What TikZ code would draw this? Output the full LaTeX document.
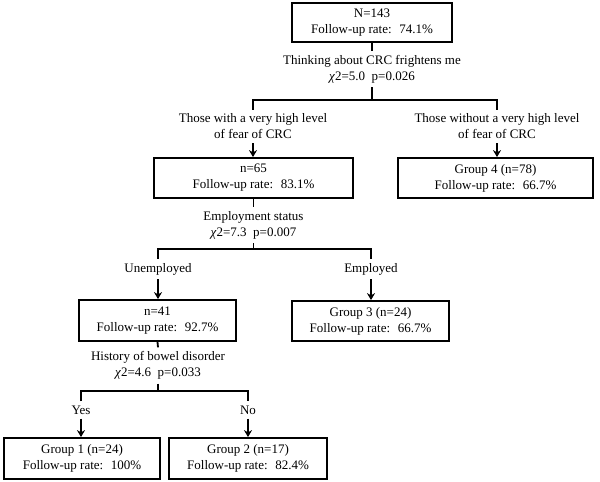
\documentclass[tikz,border=0pt]{standalone}
\usepackage{fontspec}
\setmainfont{Liberation Serif}
\usetikzlibrary{arrows.meta}
\newcommand\chisym{\textit{χ}}
\begin{document}
\begin{tikzpicture}[x=1pt,y=-1pt,
  box/.style={draw, line width=1.8pt, align=center, inner sep=0pt, font=\fontsize{13}{16}\selectfont},
  lab/.style={align=center, inner xsep=2pt, inner ysep=4pt, font=\fontsize{13}{16}\selectfont},
  conn/.style={line width=1.8pt, line join=miter},
  arr/.style={conn, -{Stealth[length=7pt,width=8pt]}}]
\useasboundingbox (0,0) rectangle (600,482);

% boxes
\node[box, minimum width=160, minimum height=39] (top) at (372,22.5) {N=143\\Follow-up rate:~ 74.1\%};
\node[box, minimum width=199, minimum height=40] (n65) at (253.5,178) {n=65\\Follow-up rate:~ 83.1\%};
\node[box, minimum width=195, minimum height=40] (g4) at (495.5,178) {Group 4 (n=78)\\Follow-up rate:~ 66.7\%};
\node[box, minimum width=157, minimum height=41] (n41) at (157.5,320.5) {n=41\\Follow-up rate:~ 92.7\%};
\node[box, minimum width=157, minimum height=40] (g3) at (370.5,321) {Group 3 (n=24)\\Follow-up rate:~ 66.7\%};
\node[box, minimum width=156, minimum height=41] (g1) at (82,458.5) {Group 1 (n=24)\\Follow-up rate:~ 100\%};
\node[box, minimum width=158, minimum height=41] (g2) at (248,458.5) {Group 2 (n=17)\\Follow-up rate:~ 82.4\%};

% split labels
\node[lab] (q1) at (372,69) {Thinking about CRC frightens me\\\chisym2=5.0~ p=0.026};
\node[lab] (q2) at (253.5,225) {Employment status\\\chisym2=7.3~ p=0.007};
\node[lab] (q3) at (158,365.5) {History of bowel disorder\\\chisym2=4.6~ p=0.033};

% branch labels
\node[lab] (l1) at (253,126.5) {Those with a very high level\\of fear of CRC};
\node[lab] (r1) at (497,126.5) {Those without a very high level\\of fear of CRC};
\node[lab] (l2) at (158,269) {Unemployed};
\node[lab] (r2) at (371,269) {Employed};
\node[lab] (l3) at (81,410) {Yes};
\node[lab] (r3) at (248,410) {No};

% bar coordinates
\coordinate (b1) at (372,100);
\coordinate (b2) at (253.5,249);
\coordinate (b3) at (158,391);

% level 1
\draw[conn] (top.south) -- (q1.north);
\draw[conn] (q1.south) -- (b1);
\draw[conn] (l1.north) -- (l1.north |- b1) -- (r1.north |- b1) -- (r1.north);
\draw[arr] (l1.south) -- (l1.south |- n65.north);
\draw[arr] (r1.south) -- (r1.south |- g4.north);

% level 2
\draw[conn] (n65.south) -- (q2.north);
\draw[conn] (q2.south) -- (b2);
\draw[conn] (l2.north) -- (l2.north |- b2) -- (r2.north |- b2) -- (r2.north);
\draw[arr] (l2.south) -- (l2.south |- n41.north);
\draw[arr] (r2.south) -- (r2.south |- g3.north);

% level 3
\draw[conn] (n41.south) -- (q3.north);
\draw[conn] (q3.south) -- (b3);
\draw[conn] (l3.north) -- (l3.north |- b3) -- (r3.north |- b3) -- (r3.north);
\draw[arr] (l3.south) -- (l3.south |- g1.north);
\draw[arr] (r3.south) -- (r3.south |- g2.north);
\end{tikzpicture}
\end{document}
